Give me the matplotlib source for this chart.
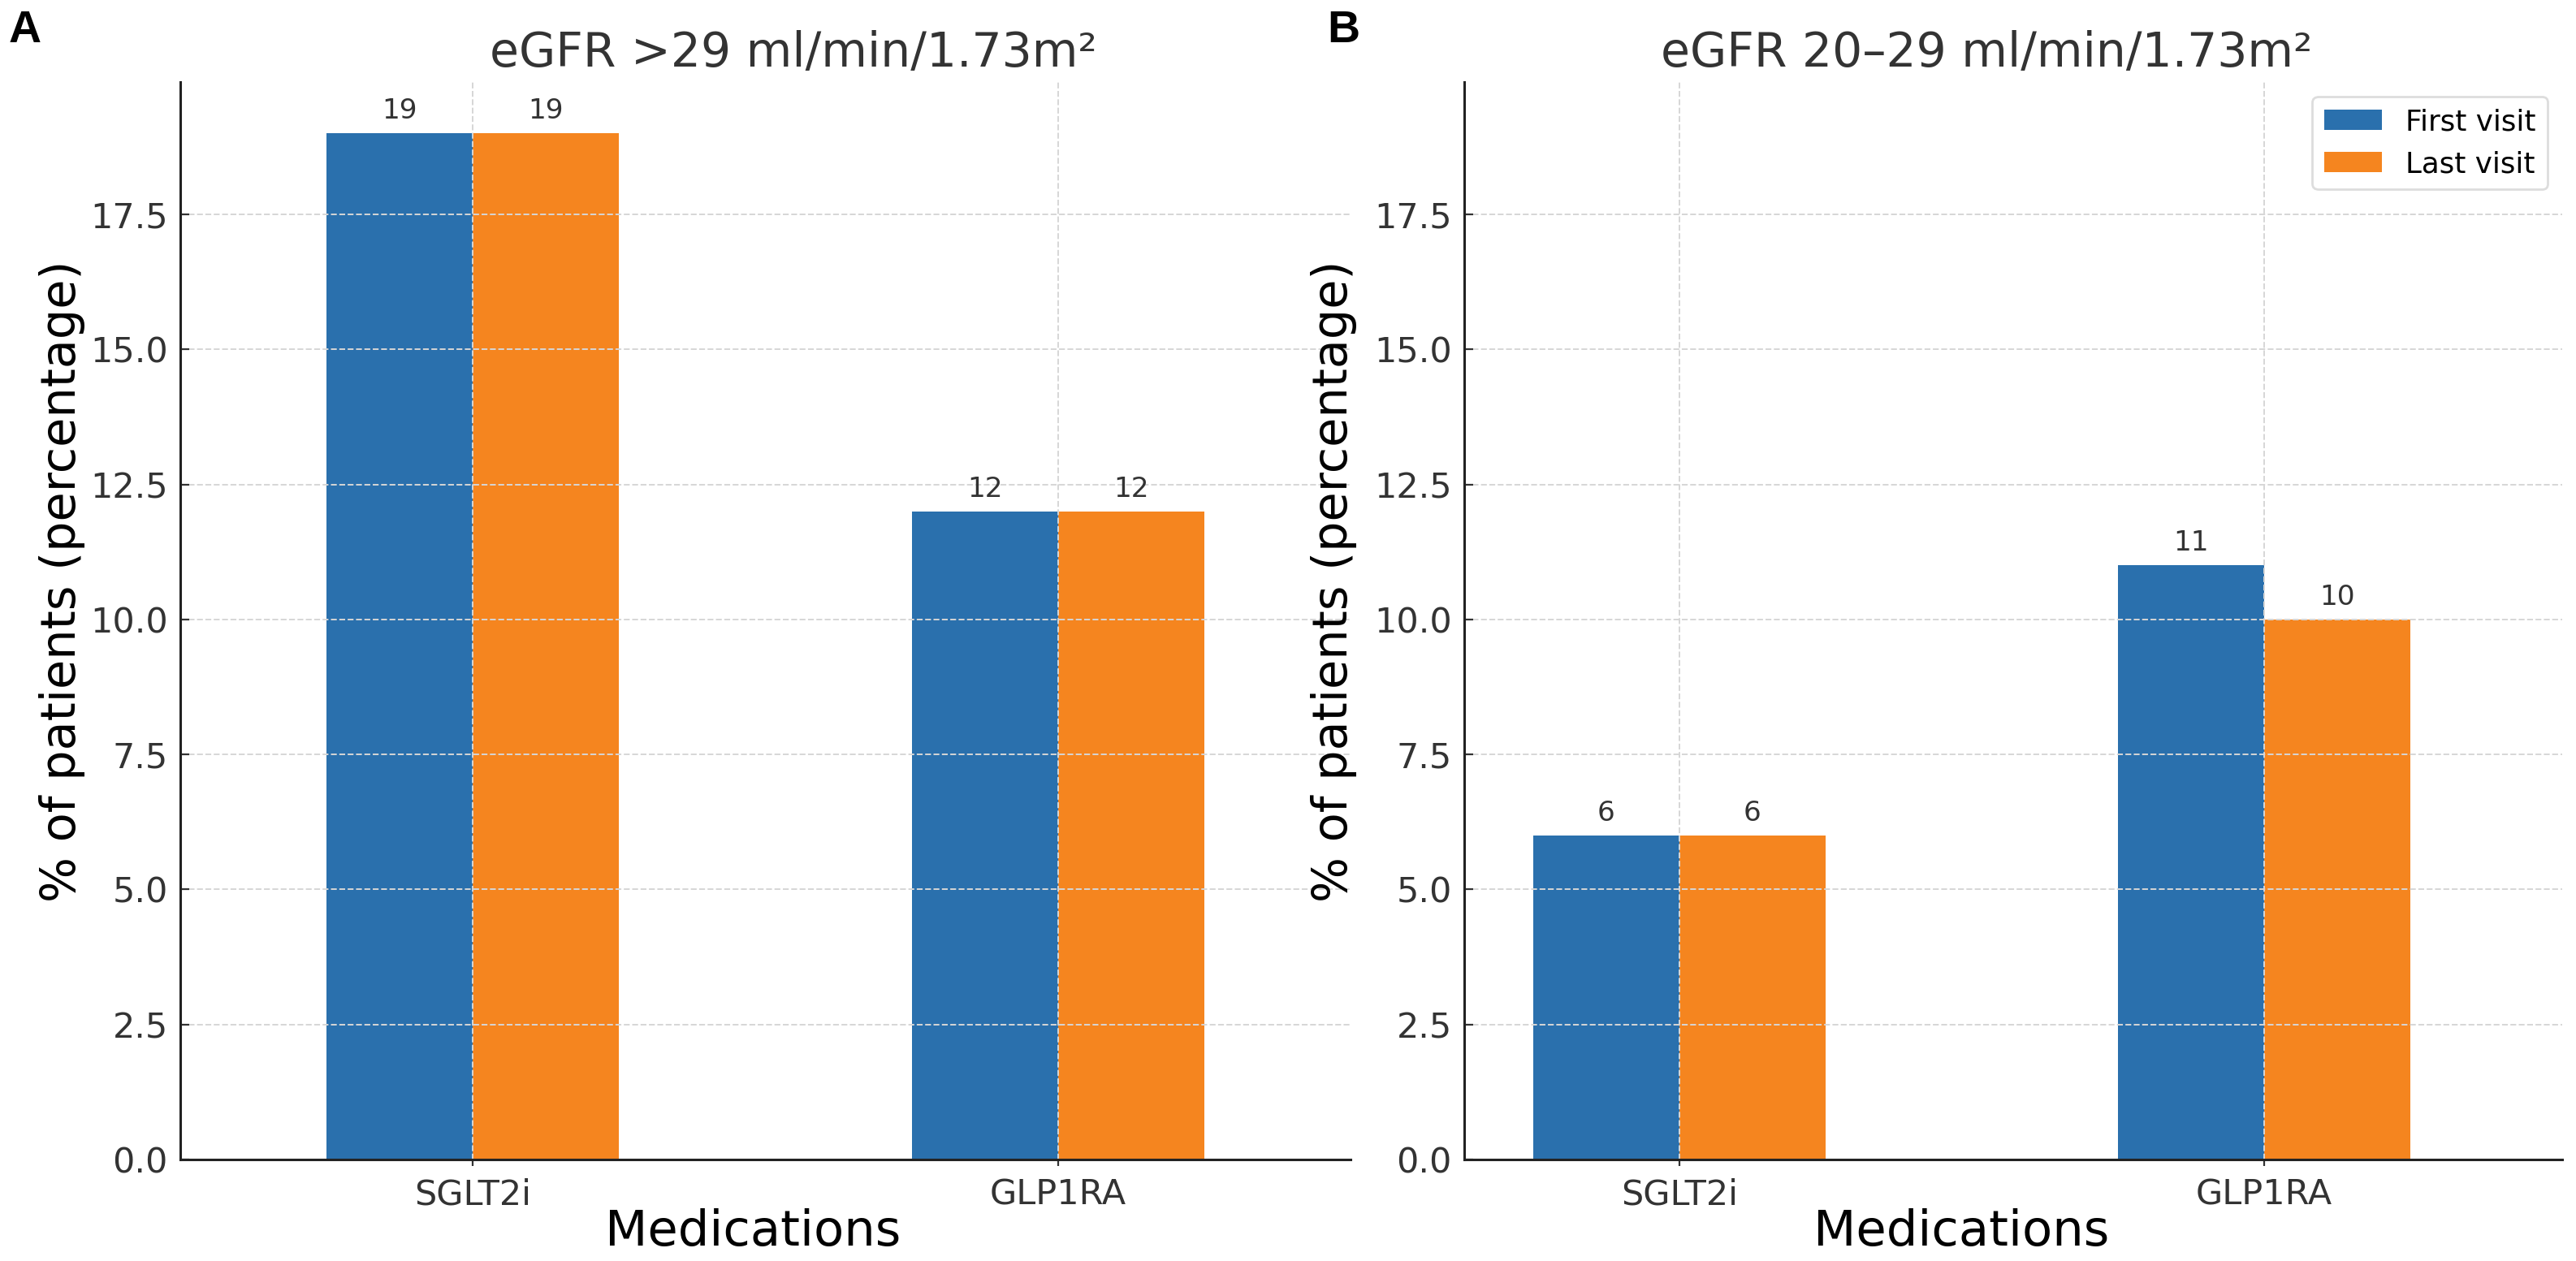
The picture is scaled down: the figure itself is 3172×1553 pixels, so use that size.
import matplotlib
matplotlib.use("Agg")
import matplotlib.pyplot as plt
import numpy as np
from matplotlib.ticker import MultipleLocator

# ---- data ----
categories = ["SGLT2i", "GLP1RA"]
series_names = ["First visit", "Last visit"]
panel_a_first = [19, 12]
panel_a_last = [19, 12]
panel_b_first = [6, 11]
panel_b_last = [6, 10]
title_a = "eGFR >29 ml/min/1.73m²"
title_b = "eGFR 20–29 ml/min/1.73m²"
panel_letters = ["A", "B"]
xlabel = "Medications"
ylabel = "% of patients (percentage)"

BLUE = "#2A70AD"
ORANGE = "#F5851F"

plt.rcParams['font.family'] = ['DejaVu Sans']

fig = plt.figure(figsize=(15.86, 7.765), dpi=200)
ax_a = fig.add_axes([0.0700, 0.0805, 0.4543, 0.8545])
ax_b = fig.add_axes([0.5684, 0.0805, 0.4262, 0.8545])

ymax = max(panel_a_first + panel_a_last + panel_b_first + panel_b_last) * 1.05

panels = [
    (ax_a, panel_a_first, panel_a_last, title_a, (-0.5, 1.5), 0.524, -0.081, 0.489),
    (ax_b, panel_b_first, panel_b_last, title_b, (-0.368, 1.51), 0.4756, -0.0976, 0.453),
]

w = 0.25
x = np.arange(len(categories))
for i, (ax, first, last, title, xl, tx, ylx, xlx) in enumerate(panels):
    b1 = ax.bar(x - w / 2, first, w, color=BLUE, label=series_names[0])
    b2 = ax.bar(x + w / 2, last, w, color=ORANGE, label=series_names[1])
    for bars in (b1, b2):
        ax.bar_label(bars, padding=4, fontsize=12.4, color="#333333")
    ax.set_xlim(*xl)
    ax.set_ylim(0, ymax)
    ax.yaxis.set_major_locator(MultipleLocator(2.5))
    ax.set_xticks(x)
    ax.set_xticklabels(categories)
    ax.tick_params(axis='both', labelsize=15.5, labelcolor="#333333", colors="#333333")
    ax.tick_params(axis='y', direction='in', length=4, pad=5.5)
    ax.tick_params(axis='x', length=3, pad=5)
    ax.grid(True, linestyle='--', color='#d6d6d6', linewidth=0.7)
    for s in ("top", "right"):
        ax.spines[s].set_visible(False)
    for s in ("left", "bottom"):
        ax.spines[s].set_color("#222222")
        ax.spines[s].set_linewidth(1.1)
    ax.set_title(title, fontsize=21, color="#333333", x=tx, pad=7)
    ax.set_ylabel(ylabel, fontsize=21.2, color="black")
    ax.yaxis.set_label_coords(ylx, 0.5365)
    ax.set_xlabel(xlabel, fontsize=21.9, color="black")
    ax.xaxis.set_label_coords(xlx, -0.045)

ax_b.legend(loc="upper right", fontsize=12.9, frameon=True, framealpha=1,
            edgecolor="#dddddd", fancybox=True)

fig.text(0.0035, 0.9665, panel_letters[0], fontsize=20, fontweight='bold',
         family='Liberation Sans', va='baseline', ha='left')
fig.text(0.5153, 0.9665, panel_letters[1], fontsize=20, fontweight='bold',
         family='Liberation Sans', va='baseline', ha='left')

fig.savefig("out.png", dpi=200)
